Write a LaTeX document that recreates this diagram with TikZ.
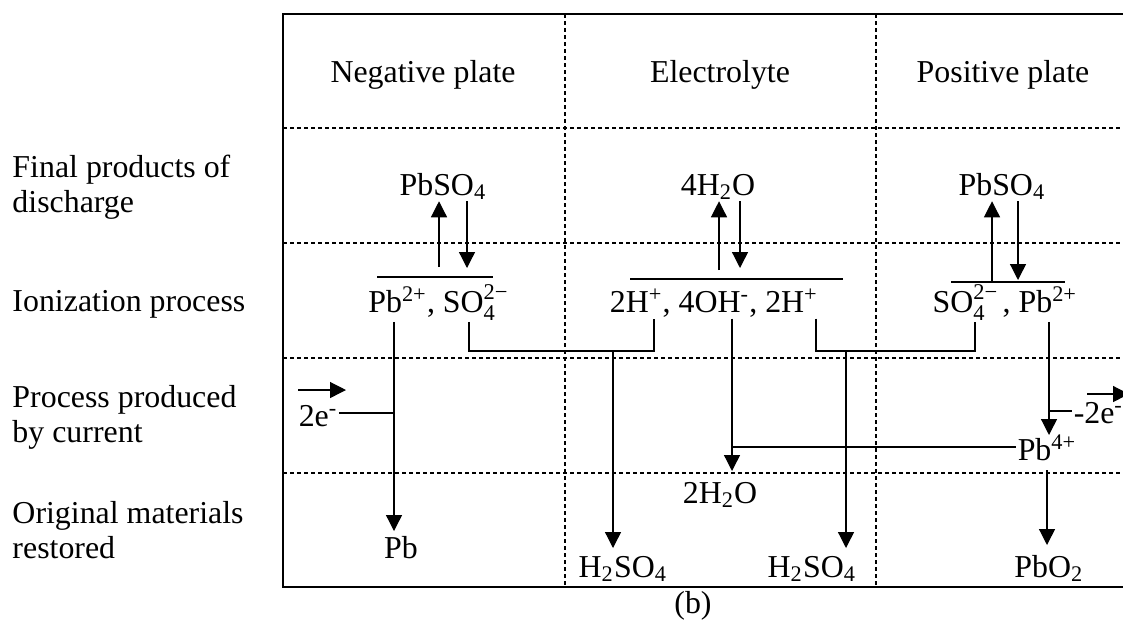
\documentclass[tikz,border=0pt]{standalone}
\usepackage{fontspec}
\setmainfont{Liberation Serif}
\usetikzlibrary{arrows.meta}

% superscript charge stacked over subscript count
\newcommand{\chg}[2]{\rlap{\raisebox{-0.55ex}{\fontsize{9}{9}\selectfont #2}}\raisebox{0.85ex}{\fontsize{9}{9}\selectfont #1}}

\begin{document}
\begin{tikzpicture}[
  x=0.4pt, y=-0.4pt,
  % ── Style definitions ──
  frame/.style={line width=0.8pt},
  grid/.style={line width=0.5pt, dash pattern=on 1.6pt off 1.2pt},
  txt/.style={font=\fontsize{12.75}{14.2}\selectfont, anchor=base, inner sep=0.5pt},
  chem/.style={txt},
  rowlbl/.style={txt, anchor=base west, text width=100pt, align=flush left, inner sep=0pt},
  bar/.style={line width=0.6pt},
  lnk/.style={line width=0.5pt},
  arr/.style={lnk, -{Triangle[length=6.4pt, width=6.4pt]}}
]
\useasboundingbox (0,0) rectangle (1123,623);

% ─────────── Table frame and dashed grid ─────────────────────
\draw[frame] (1123,14) -- (283,14) -- (283,587) -- (1123,587);
\foreach \y in {128,243,358,473}
  \draw[grid] (283,\y) -- (1123,\y);
\foreach \x in {565,876}
  \draw[grid] (\x,14) -- (\x,587);

% ─────────── Column heads ────────────────────────────────────
\node[txt] (hneg)  at (423,82)  {Negative plate};
\node[txt] (helec) at (720,82)  {Electrolyte};
\node[txt] (hpos)  at (1003,82) {Positive plate};

% ─────────── Row labels ──────────────────────────────────────
\node[rowlbl] (lfin) at (12,177) {Final products of\\discharge};
\node[rowlbl] (lion) at (12,311) {Ionization process};
\node[rowlbl] (lcur) at (12,407) {Process produced\\by current};
\node[rowlbl] (lorg) at (12,523) {Original materials\\restored};

% ─────────── Final products of discharge ────────────────────
\node[chem] (nPbSO4) at (443,195)  {PbSO\textsubscript{4}};
\node[chem] (e4H2O)  at (718,195)  {4H\textsubscript{2}O};
\node[chem] (pPbSO4) at (1002,195) {PbSO\textsubscript{4}};

% ─────────── Ionization process ─────────────────────────────
\node[chem] (nIons) at (438,312)  {Pb\textsuperscript{2+}, SO\chg{2−}{4}};
\node[chem] (eIons) at (714,312)  {2H\textsuperscript{+}, 4OH\textsuperscript{-}, 2H\textsuperscript{+}};
\node[chem] (pIons) at (1005,312) {SO\chg{2−}{4}\,, Pb\textsuperscript{2+}};

\draw[bar] (377,277) -- (493,277);
\draw[bar] (630,279) -- (843,279);
\draw[bar] (951,282) -- (1065,282);

% ─────────── Process produced by current ────────────────────
\node[chem, anchor=base west] (ne2)  at (297,426)  {2e\textsuperscript{-}};
\node[chem, anchor=base west] (pe2)  at (1072,423) {-2e\textsuperscript{-}};
\node[chem, anchor=base west] (pPb4) at (1016,460) {Pb\textsuperscript{4+}};

% ─────────── Original materials restored ────────────────────
\node[chem] (e2H2O)  at (720,503) {2H\textsubscript{2}O};
\node[chem] (nPb)    at (401,558) {Pb};
\node[chem] (eSulfA) at (623,577) {H\textsubscript{2}SO\textsubscript{4}};
\node[chem] (eSulfB) at (812,577) {H\textsubscript{2}SO\textsubscript{4}};
\node[chem] (pPbO2)  at (1049,577) {PbO\textsubscript{2}};

\node[txt] (cap) at (693,613) {(b)};

% ─────────── Junction points ─────────────────────────────────
\coordinate (nUp) at (439,267);  \coordinate (nDn) at (467,268);
\coordinate (eUp) at (719,270);  \coordinate (eDn) at (740,268);
\coordinate (pUp) at (992,281);  \coordinate (pDn) at (1018,280);
\coordinate (jA) at (469,351);   \coordinate (jB) at (654,351);
\coordinate (jC) at (816,351);   \coordinate (jD) at (975,351);
\coordinate (jE) at (613,351);   \coordinate (jF) at (846,351);
\coordinate (jG) at (732,447);   \coordinate (jH) at (732,471);
\coordinate (mA) at (394,413);   \coordinate (mB) at (394,531);
\coordinate (mC) at (298,390);   \coordinate (mD) at (346,390);
\coordinate (kA) at (1049,411);  \coordinate (kB) at (1049,435);
\coordinate (kC) at (1087,394);  \coordinate (kD) at (1129,394);
\coordinate (kE) at (1047,470);  \coordinate (kF) at (1047,545);
\coordinate (sA) at (613,548);   \coordinate (sB) at (846,548);

% ─────────── Reversible steps ────────────────────────────────
\draw[arr] (nUp) -- (nUp |- nPbSO4.south);
\draw[arr] (nDn |- nPbSO4.south) -- (nDn);
\draw[arr] (eUp) -- (eUp |- e4H2O.south);
\draw[arr] (eDn |- e4H2O.south) -- (eDn);
\draw[arr] (pUp) -- (pUp |- pPbSO4.south);
\draw[arr] (pDn |- pPbSO4.south) -- (pDn);

% ─────────── Ions recombining to H2SO4 ───────────────────────
\draw[lnk] (nIons.south -| jA) -- (jA) -- (jB) -- (eIons.south -| jB);
\draw[arr] (jE) -- (sA);
\draw[lnk] (eIons.south -| jC) -- (jC) -- (jD) -- (pIons.south -| jD);
\draw[arr] (jF) -- (sB);

% ─────────── Hydroxyl ions to water ──────────────────────────
\draw[arr] (eIons.south -| jG) -- (jH);
\draw[lnk] (jG) -- (jG -| pPb4.west);

% ─────────── Negative plate ──────────────────────────────────
\draw[arr] (nIons.south -| mA) -- (mB);
\draw[lnk] (ne2.east |- mA) -- (mA);
\draw[arr] (mC) -- (mD);

% ─────────── Positive plate ──────────────────────────────────
\draw[arr] (pIons.south -| kB) -- (kB);
\draw[lnk] (kA) -- (kA -| pe2.west);
\draw[arr] (kC) -- (kD);
\draw[arr] (kE) -- (kF);
\end{tikzpicture}
\end{document}
